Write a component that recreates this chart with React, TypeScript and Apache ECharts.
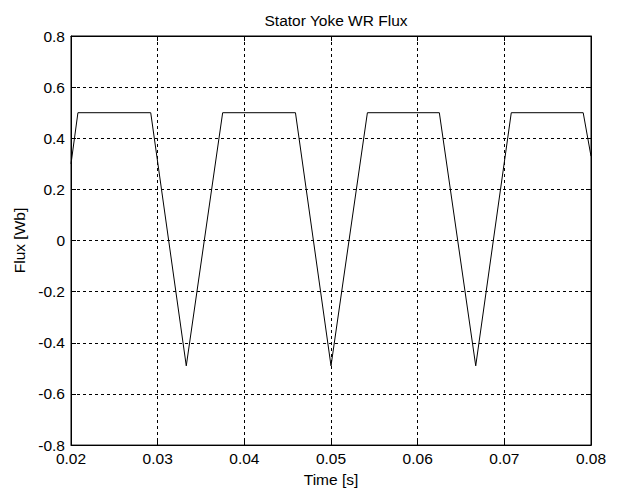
import React, { useEffect, useRef } from "react";
import * as echarts from "echarts";

const title = "Stator Yoke WR Flux";
const xName = "Time [s]";
const yName = "Flux [Wb]";

const timeValues = [0.02, 0.0208, 0.0292, 0.0333, 0.0375, 0.0459, 0.05, 0.0542, 0.0625, 0.0667, 0.0708, 0.0791, 0.08];
const fluxValues = [0.30, 0.50, 0.50, -0.49, 0.50, 0.50, -0.49, 0.50, 0.50, -0.49, 0.50, 0.50, 0.33];

const xMin = 0.02;
const xMax = 0.08;
const xStep = 0.01;
const yMin = -0.8;
const yMax = 0.8;
const yStep = 0.2;

const FONT = "Liberation Sans, Arial, sans-serif";

export default function App() {
  const ref = useRef<HTMLDivElement>(null);
  useEffect(() => {
    if (!ref.current) return;
    const chart = echarts.init(ref.current, undefined, { renderer: "svg" });
    const data = timeValues.map((t, i) => [t, fluxValues[i]]);
    const gridLine = { show: true, lineStyle: { color: "#000", width: 1, type: [3, 3] as any } };
    const textStyle = { color: "#000", fontSize: 15.5, fontFamily: FONT };
    const xFmt = (v: number) => v.toFixed(2);
    const yFmt = (v: number) => (Math.abs(v) < 1e-9 ? "0" : v.toFixed(1));
    const solidAxis = { show: true, onZero: false, lineStyle: { color: "#000", width: 1 } };
    const inTick = { show: true, inside: true, length: 5, lineStyle: { color: "#000" } };
    chart.setOption({
      animation: false,
      backgroundColor: "#fff",
      title: {
        text: title,
        left: 331,
        textAlign: "center",
        top: 7,
        textStyle: { color: "#000", fontSize: 15.5, fontWeight: "normal", fontFamily: FONT },
      },
      grid: { left: 71, right: 29, top: 36, bottom: 46, show: true, borderColor: "#000", borderWidth: 1, backgroundColor: "#fff" },
      xAxis: [
        {
          type: "value",
          min: xMin,
          max: xMax,
          interval: xStep,
          name: xName,
          nameLocation: "middle",
          nameGap: 24,
          nameTextStyle: textStyle,
          axisLine: solidAxis,
          axisTick: inTick,
          axisLabel: { ...textStyle, margin: 5, formatter: xFmt },
          splitLine: gridLine,
        },
        {
          type: "value",
          position: "top",
          min: xMin,
          max: xMax,
          interval: xStep,
          axisLine: solidAxis,
          axisTick: inTick,
          axisLabel: { show: false },
          splitLine: { show: false },
        },
      ],
      yAxis: [
        {
          type: "value",
          min: yMin,
          max: yMax,
          interval: yStep,
          name: yName,
          nameLocation: "middle",
          nameGap: 44,
          nameTextStyle: textStyle,
          axisLine: solidAxis,
          axisTick: inTick,
          axisLabel: { ...textStyle, margin: 6, formatter: yFmt },
          splitLine: gridLine,
        },
        {
          type: "value",
          position: "right",
          min: yMin,
          max: yMax,
          interval: yStep,
          axisLine: solidAxis,
          axisTick: inTick,
          axisLabel: { show: false },
          splitLine: { show: false },
        },
      ],
      series: [
        {
          type: "line",
          data,
          showSymbol: false,
          symbol: "none",
          lineStyle: { color: "#000", width: 1 },
          silent: true,
        },
      ],
    });
    return () => chart.dispose();
  }, []);
  return (
    <div
      ref={ref}
      style={{ position: "fixed", left: 0, top: 0, width: 620, height: 492, background: "#fff" }}
    />
  );
}
